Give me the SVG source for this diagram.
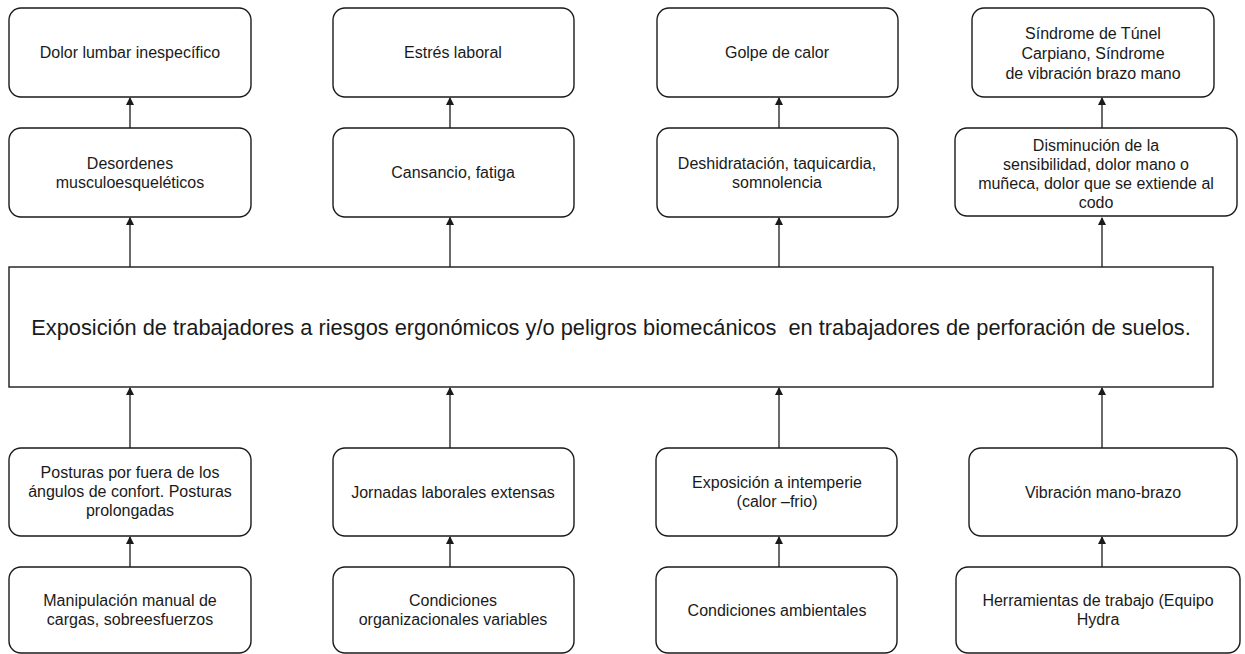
<svg xmlns="http://www.w3.org/2000/svg" width="1245" height="654" viewBox="0 0 1245 654">
<defs>
<style>
.n{fill:#fff;stroke:#1a1a1a;stroke-width:1.4}
.t{font-family:"Liberation Sans",Arial,sans-serif;font-size:16px;fill:#1a1a1a;text-anchor:middle}
.big{font-size:21.8px;white-space:pre}
.c{stroke:#1a1a1a;stroke-width:1.3;fill:none;marker-end:url(#ah)}
</style>
<marker id="ah" markerWidth="8" markerHeight="8" refX="7" refY="4" orient="auto" markerUnits="userSpaceOnUse">
<path d="M0,0 L8,4 L0,8 Z" fill="#1a1a1a"/>
</marker>
</defs>
<rect width="1245" height="654" fill="#fff"/>

<g id="connectors">
<line class="c" x1="130" y1="128" x2="130" y2="98"/>
<line class="c" x1="450" y1="128" x2="450" y2="98"/>
<line class="c" x1="779" y1="128" x2="779" y2="98"/>
<line class="c" x1="1102" y1="128" x2="1102" y2="98"/>
<line class="c" x1="130" y1="267" x2="130" y2="218"/>
<line class="c" x1="450" y1="267" x2="450" y2="218"/>
<line class="c" x1="779" y1="267" x2="779" y2="218"/>
<line class="c" x1="1102" y1="267" x2="1102" y2="218"/>
<line class="c" x1="130" y1="448" x2="130" y2="388"/>
<line class="c" x1="450" y1="448" x2="450" y2="388"/>
<line class="c" x1="779" y1="448" x2="779" y2="388"/>
<line class="c" x1="1102" y1="448" x2="1102" y2="388"/>
<line class="c" x1="130" y1="567" x2="130" y2="537"/>
<line class="c" x1="450" y1="567" x2="450" y2="537"/>
<line class="c" x1="779" y1="567" x2="779" y2="537"/>
<line class="c" x1="1102" y1="567" x2="1102" y2="537"/>
</g>

<g id="n-dolor">
<rect class="n" x="9" y="8" width="242" height="89" rx="12"/>
<text class="t" x="130" y="58">Dolor lumbar inespecífico</text>
</g>
<g id="n-estres">
<rect class="n" x="333" y="8" width="241" height="89" rx="12"/>
<text class="t" x="453" y="58">Estrés laboral</text>
</g>
<g id="n-golpe">
<rect class="n" x="657" y="8" width="241" height="89" rx="12"/>
<text class="t" x="777" y="58">Golpe de calor</text>
</g>
<g id="n-sindrome">
<rect class="n" x="972" y="8" width="242" height="89" rx="12"/>
<text class="t" x="1093" y="39">Síndrome de Túnel</text>
<text class="t" x="1093" y="59">Carpiano, Síndrome</text>
<text class="t" x="1093" y="79">de vibración brazo mano</text>
</g>

<g id="n-desordenes">
<rect class="n" x="9" y="128" width="242" height="89" rx="12"/>
<text class="t" x="130" y="169">Desordenes</text>
<text class="t" x="130" y="188">musculoesqueléticos</text>
</g>
<g id="n-cansancio">
<rect class="n" x="333" y="128" width="241" height="89" rx="12"/>
<text class="t" x="453" y="178">Cansancio, fatiga</text>
</g>
<g id="n-deshidratacion">
<rect class="n" x="657" y="128" width="241" height="89" rx="12"/>
<text class="t" x="777" y="169">Deshidratación, taquicardia,</text>
<text class="t" x="777" y="188">somnolencia</text>
</g>
<g id="n-disminucion">
<rect class="n" x="955" y="128" width="282" height="88" rx="12"/>
<text class="t" x="1096" y="151">Disminución de la</text>
<text class="t" x="1096" y="170">sensibilidad, dolor mano o</text>
<text class="t" x="1096" y="189">muñeca, dolor que se extiende al</text>
<text class="t" x="1096" y="208">codo</text>
</g>

<g id="n-exposicion">
<rect class="n" x="9" y="267" width="1204" height="120"/>
<text class="t big" x="611" y="335" xml:space="preserve">Exposición de trabajadores a riesgos ergonómicos y/o peligros biomecánicos  en trabajadores de perforación de suelos.</text>
</g>

<g id="n-posturas">
<rect class="n" x="9" y="448" width="242" height="88" rx="12"/>
<text class="t" x="130" y="478">Posturas por fuera de los</text>
<text class="t" x="130" y="497">ángulos de confort. Posturas</text>
<text class="t" x="130" y="516">prolongadas</text>
</g>
<g id="n-jornadas">
<rect class="n" x="333" y="448" width="241" height="88" rx="12"/>
<text class="t" x="453" y="498">Jornadas laborales extensas</text>
</g>
<g id="n-intemperie">
<rect class="n" x="656" y="448" width="241" height="88" rx="12"/>
<text class="t" x="777" y="488">Exposición a intemperie</text>
<text class="t" x="777" y="507">(calor –frio)</text>
</g>
<g id="n-vibracion">
<rect class="n" x="969" y="448" width="268" height="88" rx="12"/>
<text class="t" x="1103" y="498">Vibración mano-brazo</text>
</g>

<g id="n-manipulacion">
<rect class="n" x="9" y="567" width="242" height="86" rx="12"/>
<text class="t" x="130" y="606">Manipulación manual de</text>
<text class="t" x="130" y="625">cargas, sobreesfuerzos</text>
</g>
<g id="n-condorg">
<rect class="n" x="333" y="567" width="241" height="86" rx="12"/>
<text class="t" x="453" y="606">Condiciones</text>
<text class="t" x="453" y="625">organizacionales variables</text>
</g>
<g id="n-condamb">
<rect class="n" x="656" y="567" width="241" height="86" rx="12"/>
<text class="t" x="777" y="616">Condiciones ambientales</text>
</g>
<g id="n-herramientas">
<rect class="n" x="956" y="567" width="284" height="86" rx="12"/>
<text class="t" x="1098" y="606">Herramientas de trabajo (Equipo</text>
<text class="t" x="1098" y="625">Hydra</text>
</g>
</svg>
